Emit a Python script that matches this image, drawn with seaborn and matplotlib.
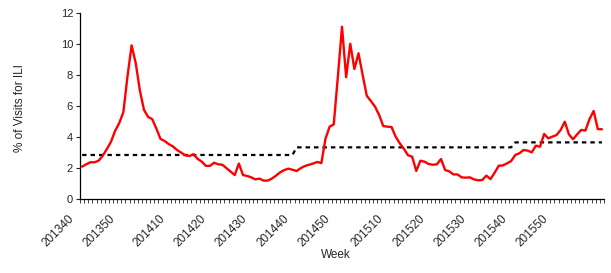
import matplotlib
matplotlib.use("Agg")
import matplotlib.pyplot as plt
import matplotlib.transforms as mtransforms
import seaborn as sns
import pandas as pd

# weeks 201340 .. 201609 (2014 has 53 weeks)
weeks = ([f"2013{w:02d}" for w in range(40, 53)]
         + [f"2014{w:02d}" for w in range(1, 54)]
         + [f"2015{w:02d}" for w in range(1, 53)]
         + [f"2016{w:02d}" for w in range(1, 10)])

ili_pct = [
    2.10, 2.25, 2.38, 2.38, 2.48, 2.80, 3.23, 3.70, 4.40, 4.90,
    5.60, 7.90, 9.90, 8.75, 7.00, 5.75, 5.30, 5.15, 4.55, 3.88,
    3.75, 3.55, 3.40, 3.17, 3.00, 2.83, 2.78, 2.90, 2.60, 2.42,
    2.15, 2.15, 2.35, 2.25, 2.22, 2.00, 1.78, 1.56, 2.30, 1.56,
    1.50, 1.41, 1.28, 1.33, 1.20, 1.20, 1.33, 1.52, 1.73, 1.88,
    1.97, 1.90, 1.82, 2.00, 2.14, 2.22, 2.30, 2.40, 2.33, 3.90,
    4.67, 4.82, 7.90, 11.10, 7.85, 10.00, 8.38, 9.39, 8.00, 6.66,
    6.32, 5.96, 5.42, 4.71, 4.67, 4.65, 4.03, 3.60, 3.25, 2.83,
    2.74, 1.82, 2.48, 2.42, 2.27, 2.22, 2.25, 2.59, 1.88, 1.80,
    1.60, 1.60, 1.41, 1.39, 1.41, 1.28, 1.22, 1.24, 1.52, 1.30,
    1.71, 2.16, 2.18, 2.31, 2.46, 2.85, 2.96, 3.17, 3.13, 3.02,
    3.45, 3.38, 4.20, 3.92, 4.03, 4.13, 4.46, 4.99, 4.18, 3.86,
    4.18, 4.46, 4.42, 5.16, 5.68, 4.52, 4.50,
]

# seasonal baseline, one value per season (week 40 to week 39)
season_baseline = [2.85, 3.34, 3.66]
season_length = [52, 53, 22]
baseline = []
for b, n in zip(season_baseline, season_length):
    baseline += [b] * n

df = pd.DataFrame({"idx": range(len(weeks)), "week": weeks,
                   "ili": ili_pct, "baseline": baseline})

sns.set_style("ticks")
plt.rcParams["font.family"] = ["Liberation Sans", "DejaVu Sans"]

fig = plt.figure(figsize=(6.11, 2.73), dpi=100)
ax = fig.add_axes([0.131, 0.27, 0.8575, 0.6835])

sns.lineplot(data=df, x="idx", y="baseline", ax=ax, color="black",
             lw=1.6, linestyle=(0, (2.0, 1.8)))
sns.lineplot(data=df, x="idx", y="ili", ax=ax, color="#ff0000", lw=1.7)

ax.set_xlim(-0.5, len(weeks) - 0.5)
ax.set_ylim(0, 12)
ax.set_yticks(range(0, 13, 2))
ax.tick_params(axis="y", labelsize=8, length=3, width=0.8, pad=2)

label_pos = [i for i, w in enumerate(weeks) if w.endswith("0") and w[:4] != "2016"]
ax.set_xticks(label_pos)
ax.set_xticklabels([weeks[i] for i in label_pos], rotation=45, ha="right",
                   rotation_mode="anchor", fontsize=8.5)
ax.tick_params(axis="x", which="major", length=0, pad=8)
ax.set_xticks([i - 0.5 for i in range(len(weeks) + 1)], minor=True)
ax.tick_params(axis="x", which="minor", length=3, width=0.6)

shift = mtransforms.ScaledTranslation(-14 / 100, -2 / 100, fig.dpi_scale_trans)
for lbl in ax.get_xticklabels():
    lbl.set_transform(lbl.get_transform() + shift)

ax.set_xlabel("Week", fontsize=8.5, va="center")
ax.xaxis.set_label_coords(0.489, -0.298)
ax.set_ylabel("% of Visits for ILI", fontsize=8.5, va="center")
ax.yaxis.set_label_coords(-0.115, 0.49)

sns.despine(ax=ax)
for s in ["left", "bottom"]:
    ax.spines[s].set_linewidth(0.9)
    ax.spines[s].set_color("black")

fig.savefig("out.png", dpi=100)
